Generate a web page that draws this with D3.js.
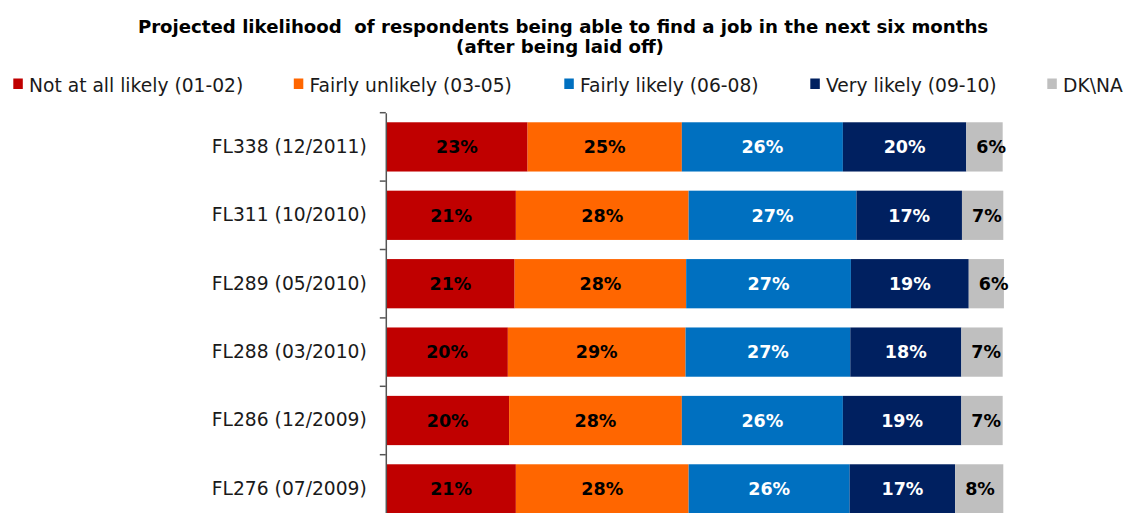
<!DOCTYPE html>
<html>
<head>
<meta charset="utf-8">
<script src="https://cdn.jsdelivr.net/npm/d3@7"></script>
<style>
  html, body { margin: 0; padding: 0; background: #fff; }
  svg { display: block; font-family: "DejaVu Sans", Verdana, sans-serif; }
  .title text { white-space: pre; }
</style>
</head>
<body>
<svg id="chart" width="1128" height="513"></svg>
<script>
// ---- Data ----
const categories = ["FL338 (12/2011)", "FL311 (10/2010)", "FL289 (05/2010)", "FL288 (03/2010)", "FL286 (12/2009)", "FL276 (07/2009)"];
const seriesNames = ["Not at all likely (01-02)", "Fairly unlikely (03-05)", "Fairly likely (06-08)", "Very likely (09-10)", "DK\\NA"];
const notAtAllLikely = [22.9, 21.0, 20.8, 19.7, 19.9, 21.0];
const fairlyUnlikely = [25.0, 28.0, 27.8, 28.8, 28.0, 28.0];
const fairlyLikely   = [26.1, 27.2, 26.7, 26.7, 26.1, 26.1];
const veryLikely     = [20.0, 17.1, 19.1, 18.0, 19.2, 17.1];
const dkNa           = [5.9, 6.7, 5.7, 6.7, 6.7, 7.8];
const titleLines = ["Projected likelihood  of respondents being able to find a job in the next six months", "(after being laid off)"];

// ---- Styles ----
const colors = ["#C00000", "#FF6600", "#0070C0", "#002060", "#BFBFBF"];
const labelColors = ["#000", "#000", "#fff", "#fff", "#000"];

const svg = d3.select("#chart");
const keys = ["s0", "s1", "s2", "s3", "s4"];
const seriesArrays = [notAtAllLikely, fairlyUnlikely, fairlyLikely, veryLikely, dkNa];
const rows = categories.map((c, i) => {
  const r = { cat: c };
  keys.forEach((k, j) => r[k] = seriesArrays[j][i]);
  return r;
});
const stacked = d3.stack().keys(keys)(rows);

const x = d3.scaleLinear().domain([0, 100]).range([386.3, 1003.3]);
const y = d3.scaleBand().domain(categories).range([112.7, 523.1]).paddingInner(0.28).paddingOuter(0.14);

// Title
const title = svg.append("g").attr("class", "title").attr("font-weight", "bold").attr("fill", "#000").attr("text-anchor", "middle");
const t1 = title.append("text").attr("x", 563).attr("y", 32.5).attr("font-size", 17).text(titleLines[0]);
const w1 = t1.node().getComputedTextLength();
const fs = 17 * 851 / w1;
t1.attr("font-size", fs);
title.append("text").attr("x", 560).attr("y", 53).attr("font-size", fs).text(titleLines[1]);

// Legend
const legendX = [29, 309.5, 580, 826, 1063];
const legend = svg.append("g").selectAll("g").data(seriesNames).join("g")
  .attr("transform", (d, i) => `translate(${legendX[i]},0)`);
legend.append("rect").attr("x", -15.7).attr("y", 78.5).attr("width", 9.5).attr("height", 10.5)
  .attr("fill", (d, i) => colors[i]);
legend.append("text").attr("x", 0).attr("y", 91.5).attr("font-size", 18.7).attr("fill", "#1a1a1a").text(d => d);

// Bars
const layers = svg.append("g").selectAll("g").data(stacked).join("g")
  .attr("fill", (d, i) => colors[i]);
layers.selectAll("rect").data(d => d).join("rect")
  .attr("x", d => x(d[0]))
  .attr("y", d => y(d.data.cat))
  .attr("width", d => x(d[1]) - x(d[0]))
  .attr("height", y.bandwidth());

// Value labels
const lab = svg.append("g").attr("font-weight", "bold").attr("font-size", 17.5);
stacked.forEach((layer, i) => {
  lab.selectAll(null).data(layer).join("text")
    .attr("x", d => i === 4 ? x(d[0]) + 10 : (x(d[0]) + x(d[1])) / 2)
    .attr("text-anchor", i === 4 ? "start" : "middle")
    .attr("y", d => y(d.data.cat) + y.bandwidth() / 2)
    .attr("dy", "0.36em")
    .attr("fill", labelColors[i])
    .text(d => Math.round(d[1] - d[0]) + "%");
});

// Axis
const axis = svg.append("g").attr("transform", `translate(${x(0) - 0.5},0)`)
  .call(d3.axisLeft(y).tickSize(0).tickPadding(19));
axis.select(".domain").attr("stroke", "#555").attr("stroke-width", 1.5);
axis.selectAll(".tick text").attr("font-size", 18.7).attr("fill", "#1a1a1a").attr("font-family", "DejaVu Sans, Verdana, sans-serif");
const boundaries = categories.map(c => y(c) - y.step() * y.paddingInner() / 2);
boundaries.push(y.range()[1]);
axis.selectAll(".bline").data(boundaries).join("line")
  .attr("class", "bline")
  .attr("x1", -6).attr("x2", 0)
  .attr("y1", d => d).attr("y2", d => d)
  .attr("stroke", "#555").attr("stroke-width", 1.5);
</script>
</body>
</html>
